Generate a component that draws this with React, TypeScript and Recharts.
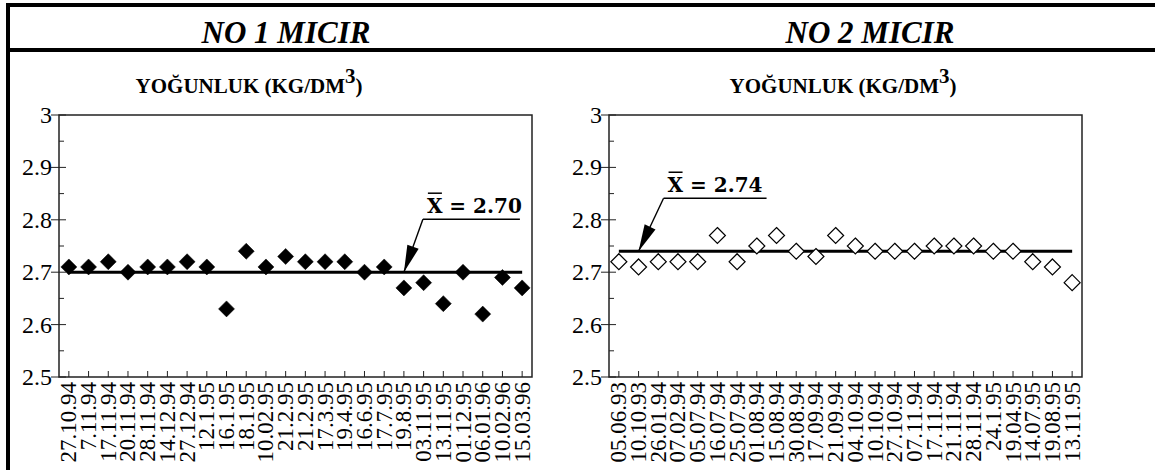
import {
  ComposedChart,
  Scatter,
  Line,
  XAxis,
  YAxis,
  ReferenceArea,
  ReferenceDot,
} from "recharts";

// NO 1 MICIR
const NO1_DATES = [
  "27.10.94", "7.11.94", "17.11.94", "20.11.94", "28.11.94", "14.12.94",
  "27.12.94", "12.1.95", "16.1.95", "18.1.95", "10.02.95", "21.2.95",
  "21.2.95", "17.3.95", "19.4.95", "16.6.95", "17.7.95", "19.8.95",
  "03.11.95", "13.11.95", "01.12.95", "06.01.96", "10.02.96", "15.03.96",
];
const NO1_VALUES = [
  2.71, 2.71, 2.72, 2.7, 2.71, 2.71, 2.72, 2.71, 2.63, 2.74, 2.71, 2.73,
  2.72, 2.72, 2.72, 2.7, 2.71, 2.67, 2.68, 2.64, 2.7, 2.62, 2.69, 2.67,
];
const NO1_MEAN = 2.7;
const NO1_MEAN_TEXT = "2.70";
const NO1_ARROW_AT = "19.8.95";

// NO 2 MICIR
const NO2_DATES = [
  "05.06.93", "10.10.93", "26.01.94", "07.02.94", "05.07.94", "16.07.94",
  "25.07.94", "01.08.94", "15.08.94", "30.08.94", "17.09.94", "21.09.94",
  "04.10.94", "10.10.94", "27.10.94", "07.11.94", "17.11.94", "21.11.94",
  "28.11.94", "24.1.95", "19.04.95", "14.07.95", "19.08.95", "13.11.95",
];
const NO2_VALUES = [
  2.72, 2.71, 2.72, 2.72, 2.72, 2.77, 2.72, 2.75, 2.77, 2.74, 2.73, 2.77,
  2.75, 2.74, 2.74, 2.74, 2.75, 2.75, 2.75, 2.74, 2.74, 2.72, 2.71, 2.68,
];
const NO2_MEAN = 2.74;
const NO2_MEAN_TEXT = "2.74";
const NO2_ARROW_AT = "10.10.93";

const Y_TICKS = [2.5, 2.55, 2.6, 2.65, 2.7, 2.75, 2.8, 2.85, 2.9, 2.95, 3];

const SERIF = "'DejaVu Serif', serif";
const TIMES = "'Liberation Serif', serif";

const ValueTick = (props: any) => {
  const { x, y, payload } = props;
  const v = payload.value as number;
  const major = Math.round(v * 100) % 10 === 0;
  if (!major) {
    return <line x1={x} y1={y} x2={x + 5} y2={y} stroke="#222" strokeWidth={1} />;
  }
  return (
    <g>
      <line x1={x - 8} y1={y} x2={x + 7} y2={y} stroke="#222" strokeWidth={1} />
      <text x={x - 7} y={y} dy="0.33em" textAnchor="end" fontFamily={TIMES} fontSize={24} fill="#000">
        {String(Number(v.toFixed(1)))}
      </text>
    </g>
  );
};

const makeDateTick = (dates: string[]) => (props: any) => {
  const { x, y, payload } = props;
  return (
    <g>
      <line x1={x} y1={y} x2={x} y2={y - 6} stroke="#222" strokeWidth={1} />
      <text
        x={0}
        y={0}
        transform={`translate(${x + 7.5},${y + 5}) rotate(-90)`}
        textAnchor="end"
        fontFamily={TIMES}
        fontSize={23}
        fill="#000"
      >
        {dates[payload.value]}
      </text>
    </g>
  );
};

const Diamond = (props: any) => {
  const { cx, cy, filled } = props;
  const r = 8;
  return (
    <path
      d={`M${cx},${cy - r}L${cx + r},${cy}L${cx},${cy + r}L${cx - r},${cy}Z`}
      fill={filled ? "#000" : "#fff"}
      stroke="#000"
      strokeWidth={filled ? 0.5 : 1.2}
    />
  );
};

const MeanArrow = (props: any) => {
  const { cx, cy, dx, dy, len, text } = props;
  const tx = cx + dx;
  const ty = cy - dy;
  const L = Math.hypot(dx, dy);
  const ux = dx / L;
  const uy = -dy / L;
  const nx = -uy;
  const ny = ux;
  const head = 27;
  const half = 6;
  const bx = cx + ux * head;
  const by = cy + uy * head;
  const textX = tx + 4;
  const textY = ty - 6;
  return (
    <g>
      <line x1={cx} y1={cy} x2={tx} y2={ty} stroke="#000" strokeWidth={1.4} />
      <line x1={tx} y1={ty} x2={tx + len} y2={ty} stroke="#000" strokeWidth={1.4} />
      <polygon
        points={`${cx},${cy} ${bx + nx * half},${by + ny * half} ${bx - nx * half},${by - ny * half}`}
        fill="#000"
      />
      <text x={textX} y={textY} fontFamily={SERIF} fontWeight="bold" fontSize={20} fill="#000">
        {`X = ${text}`}
      </text>
      <line x1={textX + 1} y1={textY - 20} x2={textX + 15} y2={textY - 20} stroke="#000" strokeWidth={1.5} />
    </g>
  );
};

interface PanelProps {
  dates: string[];
  values: number[];
  mean: number;
  meanText: string;
  arrowAt: string;
  arrowDx: number;
  arrowDy: number;
  arrowLen: number;
  filled: boolean;
  width: number;
  margin: { top: number; right: number; bottom: number; left: number };
}

function DensityPanel({
  dates,
  values,
  mean,
  meanText,
  arrowAt,
  arrowDx,
  arrowDy,
  arrowLen,
  filled,
  width,
  margin,
}: PanelProps) {
  const data = dates.map((d, i) => ({ i, date: d, value: values[i], mean }));
  const idx = dates.map((_, i) => i);
  return (
    <ComposedChart width={width} height={470} data={data} margin={margin} style={{ overflow: "visible" }}>
      <XAxis
        dataKey="i"
        type="number"
        domain={[-0.5, dates.length - 0.5]}
        ticks={idx}
        interval={0}
        axisLine={false}
        tickLine={false}
        tickSize={0}
        tickMargin={0}
        height={1}
        tick={makeDateTick(dates)}
      />
      <YAxis
        type="number"
        domain={[2.5, 3]}
        ticks={Y_TICKS}
        interval={0}
        axisLine={false}
        tickLine={false}
        tickSize={0}
        tickMargin={0}
        width={1}
        tick={<ValueTick />}
      />
      <ReferenceArea y1={2.5} y2={3} fill="none" stroke="#222" strokeWidth={1.5} fillOpacity={0} />
      <Line
        dataKey="mean"
        stroke="#000"
        strokeWidth={3}
        dot={false}
        activeDot={false}
        isAnimationActive={false}
      />
      <Scatter
        dataKey="value"
        isAnimationActive={false}
        shape={(p: any) => <Diamond cx={p.cx} cy={p.cy} filled={filled} />}
      />
      <ReferenceDot
        x={dates.indexOf(arrowAt)}
        y={mean}
        ifOverflow="visible"
        shape={(p: any) => (
          <MeanArrow cx={p.cx} cy={p.cy} dx={arrowDx} dy={arrowDy} len={arrowLen} text={meanText} />
        )}
      />
    </ComposedChart>
  );
}

export default function App() {
  return (
    <div
      style={{
        position: "absolute",
        left: 0,
        top: 0,
        width: 1155,
        height: 470,
        background: "#fff",
        overflow: "hidden",
      }}
    >
      <div style={{ position: "absolute", left: 0, top: 0 }}>
        <DensityPanel
          dates={NO1_DATES}
          values={NO1_VALUES}
          mean={NO1_MEAN}
          meanText={NO1_MEAN_TEXT}
          arrowAt={NO1_ARROW_AT}
          arrowDx={19}
          arrowDy={53}
          arrowLen={97}
          filled
          width={545}
          margin={{ top: 115, right: 13, bottom: 92, left: 58 }}
        />
      </div>
      <div style={{ position: "absolute", left: 545, top: 0 }}>
        <DensityPanel
          dates={NO2_DATES}
          values={NO2_VALUES}
          mean={NO2_MEAN}
          meanText={NO2_MEAN_TEXT}
          arrowAt={NO2_ARROW_AT}
          arrowDx={25}
          arrowDy={53}
          arrowLen={103}
          filled={false}
          width={610}
          margin={{ top: 115, right: 73, bottom: 92, left: 63 }}
        />
      </div>
      <svg
        width={1155}
        height={470}
        style={{ position: "absolute", left: 0, top: 0, pointerEvents: "none" }}
      >
        <rect x={6} y={3} width={1149} height={4} fill="#000" />
        <rect x={6} y={3} width={4} height={467} fill="#000" />
        <rect x={6} y={48} width={1149} height={4} fill="#000" />
        <text x={286} y={43} textAnchor="middle" fontFamily={TIMES} fontStyle="italic" fontWeight="bold" fontSize={31}>
          NO 1 MICIR
        </text>
        <text x={870} y={43} textAnchor="middle" fontFamily={TIMES} fontStyle="italic" fontWeight="bold" fontSize={31}>
          NO 2 MICIR
        </text>
        <text x={249} y={93} textAnchor="middle" fontFamily={TIMES} fontWeight="bold" fontSize={21}>
          YOĞUNLUK (KG/DM<tspan dy={-10}>3</tspan>
          <tspan dy={10}>)</tspan>
        </text>
        <text x={843} y={93} textAnchor="middle" fontFamily={TIMES} fontWeight="bold" fontSize={21}>
          YOĞUNLUK (KG/DM<tspan dy={-10}>3</tspan>
          <tspan dy={10}>)</tspan>
        </text>
      </svg>
    </div>
  );
}
